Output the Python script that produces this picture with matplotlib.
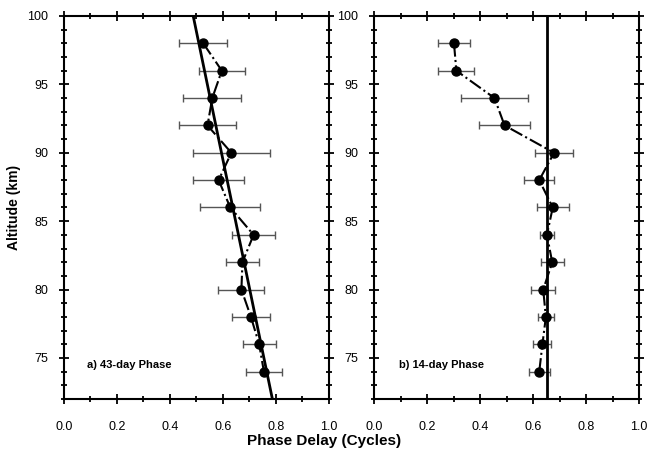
import matplotlib
matplotlib.use('Agg')
import matplotlib.pyplot as plt
from matplotlib.ticker import MultipleLocator

plt.rcParams['font.family'] = ['Liberation Sans', 'DejaVu Sans']

# altitude levels (km)
altitude = [98, 96, 94, 92, 90, 88, 86, 84, 82, 80, 78, 76, 74]

# a) 43-day phase (cycles) and errors
phase_43 = [0.526, 0.596, 0.560, 0.542, 0.632, 0.584, 0.628, 0.716, 0.674, 0.670, 0.706, 0.737, 0.755]
err_43 = [0.090, 0.088, 0.109, 0.107, 0.145, 0.095, 0.113, 0.080, 0.064, 0.087, 0.072, 0.062, 0.067]
fit_alt_43 = [100, 72]
fit_phase_43 = [0.488, 0.787]

# b) 14-day phase (cycles) and errors
phase_14 = [0.301, 0.310, 0.454, 0.492, 0.679, 0.623, 0.674, 0.652, 0.672, 0.638, 0.648, 0.635, 0.623]
err_14 = [0.062, 0.068, 0.126, 0.097, 0.073, 0.056, 0.060, 0.026, 0.043, 0.045, 0.030, 0.034, 0.039]
fit_phase_14 = 0.652

fig = plt.figure(figsize=(6.49, 4.53), dpi=100)
ax1 = fig.add_axes([0.0986, 0.1192, 0.408, 0.8455])
ax2 = fig.add_axes([0.5767, 0.1192, 0.408, 0.8455])


def style(ax):
    ax.set_xlim(0, 1)
    ax.set_ylim(72, 100)
    ax.xaxis.set_major_locator(MultipleLocator(0.2))
    ax.xaxis.set_minor_locator(MultipleLocator(0.1))
    ax.yaxis.set_major_locator(MultipleLocator(5))
    ax.yaxis.set_minor_locator(MultipleLocator(1))
    ax.xaxis.set_major_formatter(plt.FuncFormatter(lambda v, p: '%.1f' % v))
    ax.tick_params(which='both', direction='inout', top=True, right=True, width=1.3, labelsize=9)
    ax.tick_params(axis='x', which='major', length=7, pad=12)
    ax.tick_params(axis='y', which='major', length=7, pad=8)
    ax.tick_params(which='minor', length=4)
    for s in ax.spines.values():
        s.set_linewidth(1.5)


for ax, ph, er in [(ax1, phase_43, err_43), (ax2, phase_14, err_14)]:
    ax.errorbar(ph, altitude, xerr=er, fmt='none', ecolor='#555555', elinewidth=1, capsize=3, capthick=1, zorder=2)
    ax.plot(ph, altitude, color='black', linestyle='-.', linewidth=1.5, marker='o', markersize=6.5, zorder=3)
    style(ax)

ax1.plot(fit_phase_43, fit_alt_43, color='black', linewidth=2, zorder=4)
ax2.axvline(fit_phase_14, color='black', linewidth=2, zorder=4)

ax1.text(0.086, 74.45, 'a) 43-day Phase', fontsize=8, fontweight='bold', va='center')
ax2.text(0.093, 74.45, 'b) 14-day Phase', fontsize=8, fontweight='bold', va='center')

ax1.set_ylabel('Altitude (km)', fontsize=10, fontweight='bold')
fig.text(0.5, 0.012, 'Phase Delay (Cycles)', ha='center', va='bottom', fontsize=11, fontweight='bold')

fig.savefig('out.png', dpi=100)
